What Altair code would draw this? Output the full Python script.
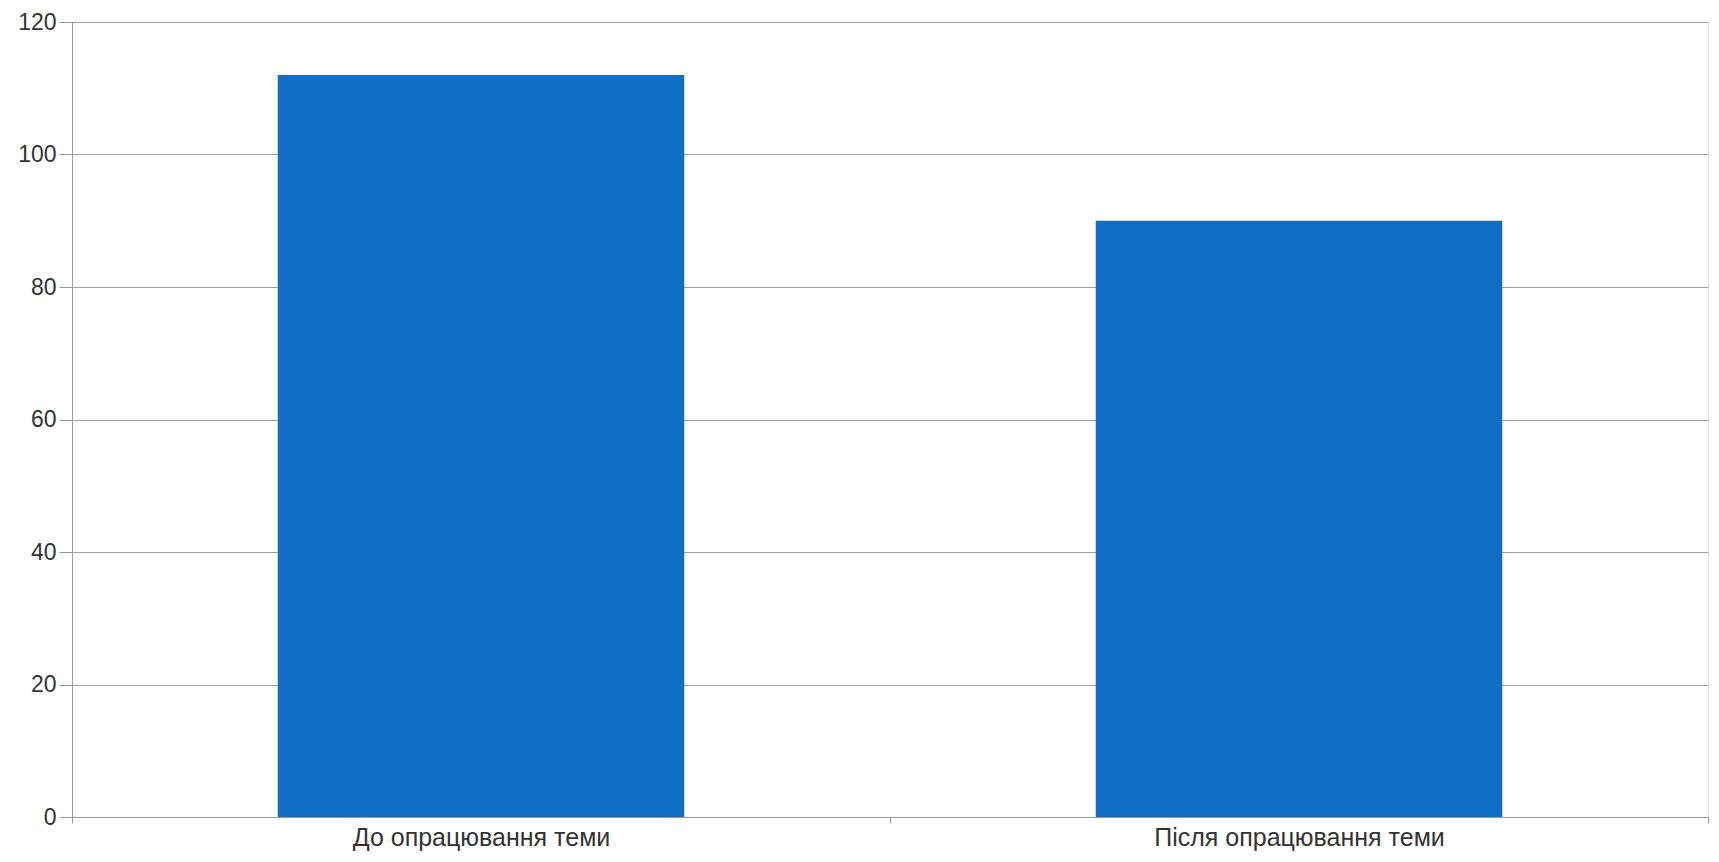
import altair as alt
import pandas as pd

categories = ["До опрацювання теми", "Після опрацювання теми"]
values = [112, 90]

df = pd.DataFrame({"cat": categories, "val": values})

chart = alt.Chart(df).mark_bar(
    color="#106EC6", width=alt.RelativeBandSize(0.497)
).encode(
    x=alt.X("cat:N", sort=categories, title=None,
            scale=alt.Scale(paddingInner=0, paddingOuter=0),
            axis=alt.Axis(labelAngle=0, tickBand="extent", tickSize=6,
                          labelPadding=2, labelFontSize=25, labelColor="#333",
                          labelFont="Liberation Sans", labelLimit=0,
                          domainColor="#999", tickColor="#999", grid=False)),
    y=alt.Y("val:Q", title=None,
            scale=alt.Scale(domain=[0, 120], nice=False),
            axis=alt.Axis(values=[0, 20, 40, 60, 80, 100, 120], tickSize=13,
                          labelPadding=3, labelFontSize=23, labelColor="#333",
                          labelFont="Liberation Sans", domainColor="#999",
                          tickColor="#999", gridColor="#a0a0a0",
                          gridOpacity=1, grid=True)),
).properties(
    width=1636, height=795,
    autosize=alt.AutoSizeParams(type="none"),
    padding={"left": 64, "top": 14, "right": 3, "bottom": 37},
).configure_view(stroke=None).configure(background="white")

chart.save("out.html", embed_options={"renderer": "svg", "actions": False})
